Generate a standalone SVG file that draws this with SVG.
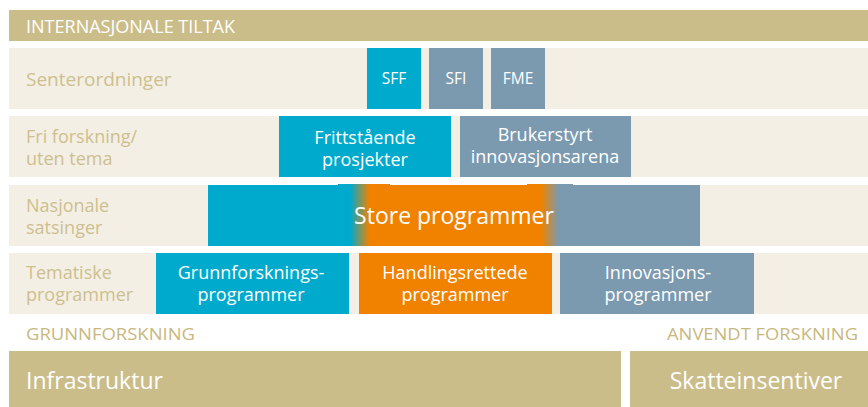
<svg xmlns="http://www.w3.org/2000/svg" width="868" height="407" viewBox="0 0 868 407">
<style>
.row{fill:#f4efe4}
.tan{fill:#cbbd89}
.cyan{fill:#00aacc}
.grey{fill:#7b9ab0}
.orange{fill:#f08200}
text{font-family:"Open Sans","Noto Sans","Liberation Sans",sans-serif}
.lbl{fill:#cdbf8f;font-size:18px}
.lbl1{fill:#cdbf8f;font-size:19px}
.box{fill:#ffffff;font-size:18px;text-anchor:middle}
.small{fill:#ffffff;font-size:15.5px;text-anchor:middle}
.hdr{fill:#c8b880;font-size:17px}
.big{fill:#ffffff;font-size:23px}
</style>
<defs>
<linearGradient id="g" gradientUnits="userSpaceOnUse" x1="208" y1="0" x2="700" y2="0">
<stop offset="0.289" stop-color="#00aacc"/>
<stop offset="0.328" stop-color="#f08200"/>
<stop offset="0.677" stop-color="#f08200"/>
<stop offset="0.713" stop-color="#7b9ab0"/>
</linearGradient>
</defs>
<rect width="868" height="407" fill="#ffffff"/>
<g id="internasjonale">
<rect class="tan" x="9" y="10" width="859" height="31"/>
<text x="26" y="33" fill="#ffffff" font-size="19" textLength="209" lengthAdjust="spacingAndGlyphs">INTERNASJONALE TILTAK</text>
</g>
<g id="row-senter">
<rect class="row" x="9" y="48" width="859" height="61"/>
<text class="lbl1" x="26" y="86">Senterordninger</text>
</g>
<g id="row-fri">
<rect class="row" x="9" y="116" width="859" height="61"/>
<text class="lbl" x="26" y="143">Fri forskning/</text>
<text class="lbl" x="26" y="165">uten tema</text>
</g>
<g id="row-nasjonale">
<rect class="row" x="9" y="185" width="859" height="61"/>
<text class="lbl" x="26" y="212">Nasjonale</text>
<text class="lbl" x="26" y="234">satsinger</text>
</g>
<g id="row-tematiske">
<rect class="row" x="9" y="253" width="859" height="61"/>
<text class="lbl" x="26" y="279">Tematiske</text>
<text class="lbl" x="26" y="301">programmer</text>
</g>
<g id="sff">
<rect class="cyan" x="367" y="48" width="54" height="61"/>
<text class="small" x="394" y="84">SFF</text>
</g>
<g id="sfi">
<rect class="grey" x="429" y="48" width="54" height="61"/>
<text class="small" x="456" y="84">SFI</text>
</g>
<g id="fme">
<rect class="grey" x="491" y="48" width="54" height="61"/>
<text class="small" x="518" y="84">FME</text>
</g>
<g id="frittstaende">
<rect class="cyan" x="279" y="116" width="172" height="61"/>
<text class="box" x="365" y="144">Frittstående</text>
<text class="box" x="365" y="166">prosjekter</text>
</g>
<g id="brukerstyrt">
<rect class="grey" x="460" y="116" width="171" height="61"/>
<text class="box" x="545" y="141">Brukerstyrt</text>
<text class="box" x="545" y="163">innovasjonsarena</text>
</g>
<g id="store">
<rect x="208" y="185" width="492" height="61" fill="url(#g)"/>
<rect x="338" y="184" width="52" height="1" fill="url(#g)"/>
<rect x="527" y="184" width="46" height="1" fill="url(#g)"/>
<text x="454" y="224" fill="#ffffff" font-size="23" text-anchor="middle">Store programmer</text>
</g>
<g id="grunnforsknings">
<rect class="cyan" x="156" y="253" width="193" height="61"/>
<text class="box" x="251" y="279">Grunnforsknings-</text>
<text class="box" x="251" y="301">programmer</text>
</g>
<g id="handlingsrettede">
<rect class="orange" x="359" y="253" width="193" height="61"/>
<text class="box" x="455" y="279">Handlingsrettede</text>
<text class="box" x="455" y="301">programmer</text>
</g>
<g id="innovasjons">
<rect class="grey" x="560" y="253" width="194" height="61"/>
<text class="box" x="658" y="279">Innovasjons-</text>
<text class="box" x="658" y="301">programmer</text>
</g>
<g id="axis">
<text class="hdr" x="26" y="340" textLength="169" lengthAdjust="spacingAndGlyphs">GRUNNFORSKNING</text>
<text class="hdr" x="667" y="340" textLength="191" lengthAdjust="spacingAndGlyphs">ANVENDT FORSKNING</text>
</g>
<g id="infrastruktur">
<rect class="tan" x="9" y="351" width="612" height="56"/>
<text class="big" x="26" y="389">Infrastruktur</text>
</g>
<g id="skatteinsentiver">
<rect class="tan" x="630" y="351" width="238" height="56"/>
<text class="big" x="756" y="389" text-anchor="middle">Skatteinsentiver</text>
</g>
<g id="connectors"/>
</svg>
